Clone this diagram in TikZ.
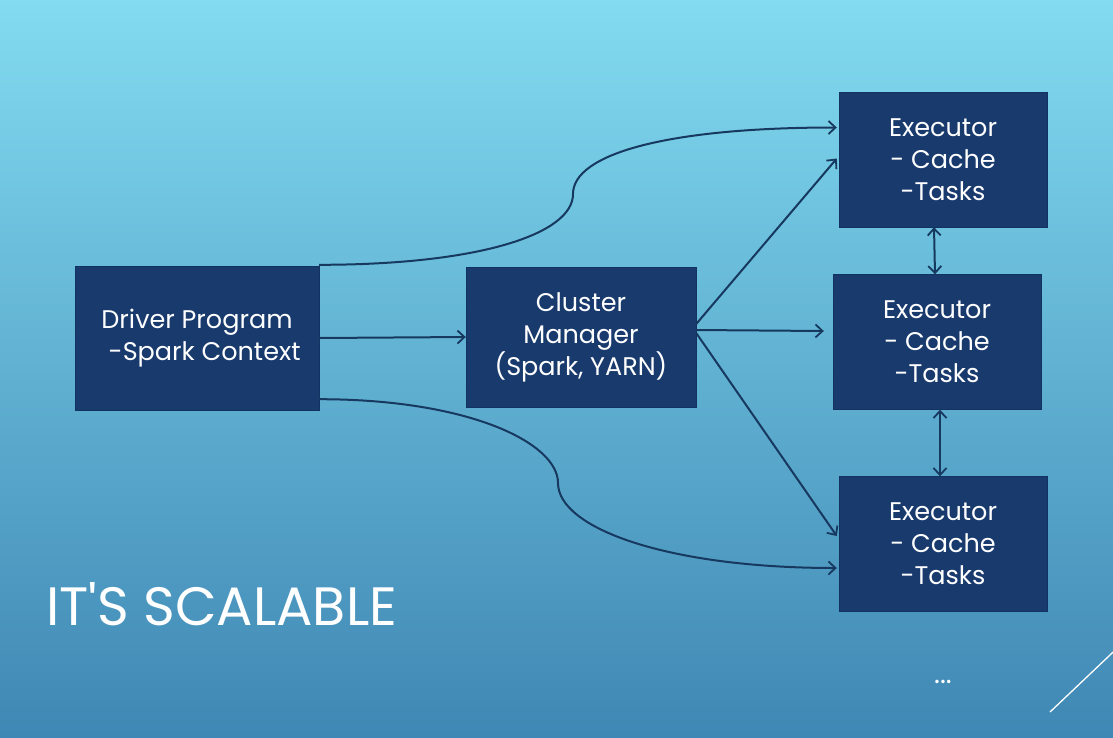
\documentclass[tikz,border=0pt]{standalone}
\usepackage{fontspec}
\setmainfont{Poppins}
\usetikzlibrary{arrows.meta,calc}
\definecolor{boxblue}{HTML}{183A6D}
\definecolor{boxedge}{HTML}{123262}
\definecolor{lineblue}{HTML}{17385F}
\definecolor{bgtop}{HTML}{82DBF0}
\definecolor{bgmid}{HTML}{5EAED0}
\definecolor{bgbot}{HTML}{3F87B4}

\begin{document}
\begin{tikzpicture}[x=1pt,y=-1pt,
  box/.style={draw=boxedge, fill=boxblue, text=white, align=center,
    minimum width=208, minimum height=135, inner sep=0,
    font=\fontsize{25.5}{32}\selectfont},
  link/.style={draw=lineblue, line width=2pt, -{Straight Barb[length=7pt,width=13pt,line width=1.8pt]}},
  both/.style={link, {Straight Barb[length=7pt,width=13pt,line width=1.8pt]}-{Straight Barb[length=7pt,width=13pt,line width=1.8pt]}}]
% background
\shade[top color=bgtop, middle color=bgmid, bottom color=bgbot] (0,0) rectangle (1113,737);
\useasboundingbox (0,0) rectangle (1113,737);
\clip (0,0) rectangle (1113,737);

\node[box, minimum width=244, minimum height=144] (drv) at (197,338) {Driver Program\\ \hspace{0.6em}-Spark Context};
\node[box, minimum width=230, minimum height=140] (cm) at (581,337) {Cluster\\Manager\\(Spark, YARN)};
\node[box] (ex1) at (943,159.5) {Executor\\- Cache\\-Tasks};
\node[box] (ex2) at (937,342) {Executor\\- Cache\\-Tasks};
\node[box] (ex3) at (943,544) {Executor\\- Cache\\-Tasks};

\coordinate (up) at (573,194);
\coordinate (dn) at (558,483);

% driver to cluster manager and executors
\draw[link] (drv.east) -- (cm.west);
\draw[link] ($(drv.north east)+(0,-1)$) .. controls +(160,0) and +(0,40) .. (up)
  .. controls +(0,-40) and +(-170,0) .. ($(ex1.west)+(-2,-32)$);
\draw[link] ($(drv.south east)+(0,-11)$) .. controls +(150,0) and +(0,-40) .. (dn)
  .. controls +(0,45) and +(-170,0) .. ($(ex3.west)+(-2,24)$);

% cluster manager to executors
\draw[link] ($(cm.east)+(0,-13)$) -- ($(ex1.west)+(-2,-1)$);
\draw[link] ($(cm.east)+(0,-7)$) -- ($(ex2.west)+(-9,-11)$);
\draw[link] ($(cm.east)+(0,-4)$) -- ($(ex3.west)+(-2,-8)$);

% executors to executors
\draw[both] ($(ex1.south)+(-9,0)$) -- ($(ex2.north)+(-2,0)$);
\draw[both] ($(ex2.south)+(3,0)$) -- ($(ex3.north)+(-3,0)$);

\node[text=white, anchor=west, inner sep=0, font=\fontsize{54}{54}\selectfont] (title) at (46,604) {IT\textquotesingle S SCALABLE};
\node[text=white, inner sep=0, font=\fontsize{28}{28}\selectfont] (more) at (943,682) {...};
\draw[white, line width=1.3pt] (1050,712) -- (1130,636);
\end{tikzpicture}
\end{document}
